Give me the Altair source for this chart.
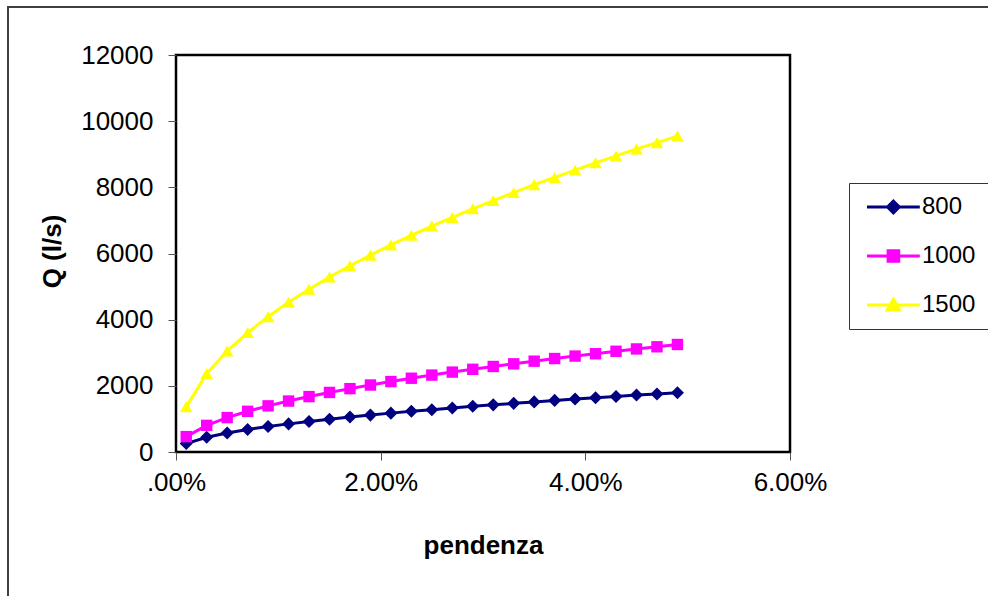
import altair as alt
import pandas as pd

# slope values (pendenza)
pendenza = [0.001, 0.003, 0.005, 0.007, 0.009, 0.011, 0.013, 0.015, 0.017,
            0.019, 0.021, 0.023, 0.025, 0.027, 0.029, 0.031, 0.033, 0.035,
            0.037, 0.039, 0.041, 0.043, 0.045, 0.047, 0.049]

q_800 = [255, 445, 575, 680, 770, 850, 925, 990, 1055, 1115, 1175, 1230, 1280,
         1330, 1380, 1425, 1470, 1515, 1560, 1600, 1640, 1680, 1720, 1755, 1790]
q_1000 = [465, 805, 1040, 1230, 1395, 1540, 1675, 1800, 1915, 2025, 2130, 2230,
          2325, 2415, 2500, 2585, 2665, 2745, 2825, 2900, 2970, 3045, 3115, 3180, 3250]
q_1500 = [1365, 2370, 3050, 3610, 4090, 4530, 4920, 5290, 5630, 5950, 6260, 6550,
          6830, 7090, 7350, 7600, 7840, 8080, 8300, 8520, 8740, 8950, 9160, 9350, 9550]

series = ["800", "1000", "1500"]
colors = ["#000080", "#FF00FF", "#FFFF00"]
markers = ["diamond", "square", "triangle-up"]
marker_sizes = [170, 130, 160]
legend_paths = [
    "M-1,0H7.8M2.4,0L3.4,-1L4.4,0L3.4,1Z",
    "M-1,0H7.8M2.5,-0.9H4.3V0.9H2.5Z",
    "M-1,0H7.8M3.4,-1L4.45,0.85H2.35Z",
]

rows = []
for name, vals in zip(series, [q_800, q_1000, q_1500]):
    for p, q in zip(pendenza, vals):
        rows.append({"pendenza": p, "Q": q, "serie": name})
df = pd.DataFrame(rows)

FONT = "Liberation Sans"

x_enc = alt.X(
    "pendenza:Q",
    scale=alt.Scale(domain=[0, 0.06], nice=False, zero=True),
    axis=alt.Axis(
        values=[0, 0.02, 0.04, 0.06],
        labelExpr="datum.value == 0 ? '.00%' : format(datum.value, '.2%')",
        labelFlush=False,
        title="pendenza",
        titleX=307, titleY=93, titleBaseline="middle", titleAnchor="middle",
        titleAlign="center",
    ),
)
y_enc = alt.Y(
    "Q:Q",
    scale=alt.Scale(domain=[0, 12000], nice=False),
    axis=alt.Axis(
        values=[0, 2000, 4000, 6000, 8000, 10000, 12000],
        format="d",
        labelFlush=False,
        title="Q (l/s)",
        titleX=-124, titleY=196, titleBaseline="middle", titleAlign="center",
        titleAngle=-90,
    ),
)

color_scale = alt.Scale(domain=series, range=colors)

legend_props = dict(
    title=None, orient="none", legendX=673, legendY=128,
    labelFontSize=24, labelFont=FONT, labelColor="black",
    labelOffset=37, rowPadding=25, padding=12,
    strokeColor="#333333", fillColor="white",
    symbolSize=144, symbolStrokeWidth=2.8,
)

# legend-only layer (no visible marks): provides the line+marker legend symbols
legend_layer = alt.Chart(df).transform_filter("datum.Q < 0").mark_point(
    filled=True, size=144, opacity=1, strokeWidth=2.8
).encode(
    x=x_enc, y=y_enc,
    color=alt.Color("serie:N", scale=color_scale, legend=alt.Legend(**legend_props)),
    stroke=alt.Stroke("serie:N", scale=alt.Scale(domain=series, range=colors),
                      legend=alt.Legend(**legend_props)),
    shape=alt.Shape("serie:N", scale=alt.Scale(domain=series, range=legend_paths),
                    legend=alt.Legend(**legend_props)),
)

lines = alt.Chart(df).mark_line(strokeWidth=3).encode(
    x=x_enc, y=y_enc,
    color=alt.Color("serie:N", scale=color_scale),
    detail="serie:N",
)

point_layers = []
for name, shp, sz in zip(series, markers, marker_sizes):
    point_layers.append(
        alt.Chart(df).transform_filter(f"datum.serie == '{name}'")
        .mark_point(filled=True, size=sz, opacity=1, shape=shp)
        .encode(
            x=x_enc, y=y_enc,
            color=alt.Color("serie:N", scale=color_scale),
        )
    )

frame = alt.Chart(alt.Data(values=[{"a": 1}])).mark_rect(
    fill=None, stroke="#404040", strokeWidth=2, clip=False
).encode(
    x=alt.value(-168), x2=alt.value(840),
    y=alt.value(-48), y2=alt.value(570),
)

chart = alt.layer(legend_layer, frame, lines, *point_layers).properties(
    width=614, height=397,
    autosize=alt.AutoSizeParams(type="none"),
    padding={"left": 176, "top": 55, "right": 198, "bottom": 144},
    background="white",
).configure_view(
    stroke="black", strokeWidth=2.5
).configure_axis(
    grid=False, domain=False,
    tickColor="#555555", tickSize=8, tickWidth=1,
    labelFont=FONT, labelFontSize=26, labelColor="black",
    titleFont=FONT, titleFontSize=26, titleFontWeight="bold", titleColor="black",
).configure_axisY(
    labelPadding=15,
).configure_axisX(
    labelPadding=9,
)

chart.save("out.html", embed_options={"renderer": "svg", "actions": False})
